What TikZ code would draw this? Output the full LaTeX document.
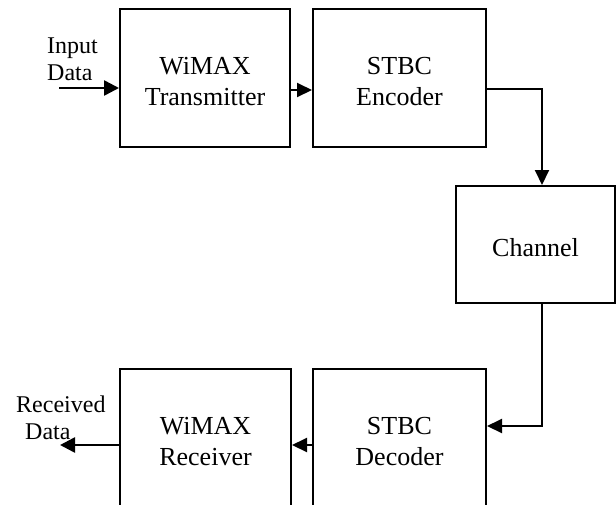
\documentclass[tikz,border=0pt]{standalone}
\usepackage{fontspec}
\setmainfont{Liberation Serif}
\usetikzlibrary{arrows.meta}
\newcommand\ustrut{\rule{0pt}{24pt}}
\begin{document}
\begin{tikzpicture}[x=1pt,y=-1pt,
 blk/.style={draw,line width=2pt,inner sep=0pt,align=center,font=\fontsize{26}{31}\selectfont},
 conn/.style={line width=2pt,-{Triangle[length=15pt,width=14pt]}},
 ioconn/.style={line width=2.6pt,-{Triangle[length=15pt,width=15pt]}},
 lbl/.style={inner sep=0pt,align=left,font=\fontsize{24}{27}\selectfont}]
\useasboundingbox (0,0) rectangle (616,504);
\clip (0,0) rectangle (616,504);
\node[blk,minimum width=170pt,minimum height=138pt] (tx) at (205,78) {\ustrut WiMAX\\Transmitter};
\node[blk,minimum width=173pt,minimum height=138pt] (enc) at (399.5,78) {\ustrut STBC\\Encoder};
\node[blk,minimum width=159pt,minimum height=117pt] (ch) at (535.5,244.5) {\ustrut Channel};
\node[blk,minimum width=173pt,minimum height=139pt] (dec) at (399.5,438.5) {\ustrut STBC\\Decoder};
\node[blk,minimum width=171pt,minimum height=139pt] (rx) at (205.5,438.5) {\ustrut WiMAX\\Receiver};
\node[lbl,anchor=north west] (inlbl) at (47,38) {Input\\Data};
\node[lbl,anchor=north west] (outlbl) at (16,396) {Received\\\hspace*{9pt}Data};
\coordinate (inp) at (59,88);
\coordinate (a1) at (0,90);
\coordinate (c1) at (542,89);
\coordinate (c2) at (542,426);
\coordinate (a3) at (0,445);
\coordinate (outp) at (60,445);
\draw[ioconn] (inp) -- (inp -| tx.west);
\draw[conn] (tx.east |- a1) -- (enc.west |- a1);
\draw[conn] (enc.east |- c1) -- (c1) -- (c1 |- ch.north);
\draw[conn] (c1 |- ch.south) -- (c2) -- (dec.east |- c2);
\draw[conn] (dec.west |- a3) -- (rx.east |- a3);
\draw[ioconn] (rx.west |- a3) -- (outp);
\end{tikzpicture}
\end{document}
